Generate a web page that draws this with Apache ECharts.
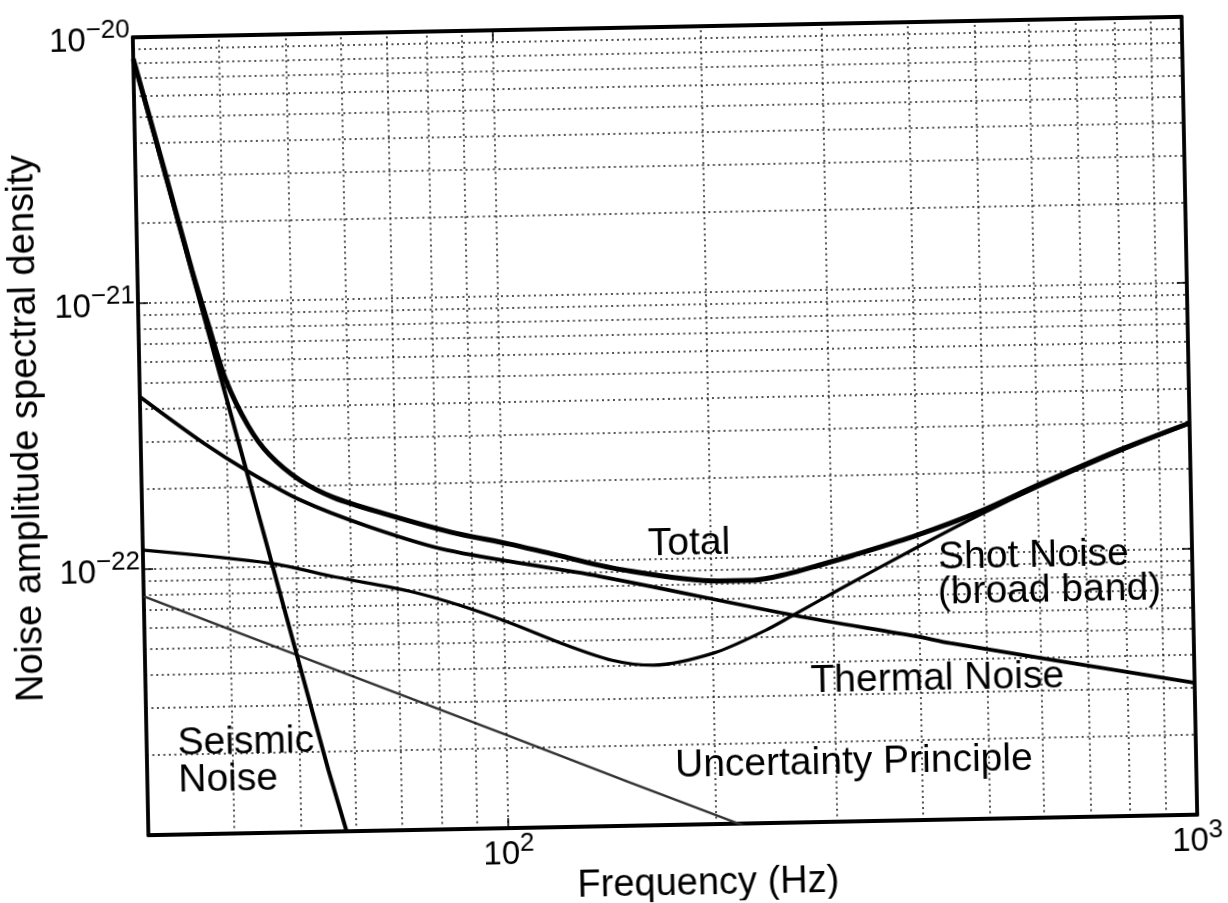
<!DOCTYPE html>
<html>
<head>
<meta charset="utf-8">
<script src="https://cdn.jsdelivr.net/npm/echarts@6/dist/echarts.min.js"></script>
<style>
  html, body { margin: 0; padding: 0; background: #fff; overflow: hidden; }
  #chart { width: 1228px; height: 903px; transform: rotate(-1.12deg); transform-origin: 50% 50%; }
</style>
</head>
<body>
<div id="chart"></div>
<script>
// noise curves, frequency in Hz, amplitude spectral density in 1/sqrt(Hz)
const seismicFreq = [30, 35, 40, 45, 50, 55, 60]
const seismicAsd = [8.3e-21, 1.72e-21, 4.4e-22, 1.33e-22, 4.5e-23, 1.7e-23, 7.5e-24]

const thermalFreq = [30, 37, 43, 51, 64, 83, 138, 264, 397, 443, 1000]
const thermalAsd = [4.45e-22, 2.95e-22, 2.28e-22, 1.77e-22, 1.39e-22, 1.12e-22, 8.7e-23, 6.0e-23, 4.9e-23, 4.6e-23, 3.13e-23]

const shotFreq = [30, 46, 57, 73, 86, 102, 121, 143, 164, 201, 239, 262, 305, 399, 499, 600, 790, 1000]
const shotAsd = [1.18e-22, 1.03e-22, 9.05e-23, 7.9e-23, 6.95e-23, 5.9e-23, 4.9e-23, 4.2e-23, 4.0e-23, 4.4e-23, 5.3e-23, 6.0e-23, 7.4e-23, 1.06e-22, 1.41e-22, 1.75e-22, 2.35e-22, 2.95e-22]

const uncertFreq = [30, 40, 60, 100, 150, 220, 300]
const uncertAsd = [7.9e-23, 5.84e-23, 3.82e-23, 2.24e-23, 1.46e-23, 9.8e-24, 7.1e-24]

const totalFreq = [30, 33, 36, 38, 40, 43, 46, 51, 57, 67, 84, 102, 117, 148, 205, 230, 258, 288, 322, 400, 500, 600, 790, 1000]
const totalAsd = [8.3e-21, 3.2e-21, 1.32e-21, 8.0e-22, 5.1e-22, 3.4e-22, 2.65e-22, 2.1e-22, 1.8e-22, 1.56e-22, 1.31e-22, 1.17e-22, 1.07e-22, 9.2e-23, 8.2e-23, 8.2e-23, 8.6e-23, 9.25e-23, 1.0e-22, 1.18e-22, 1.45e-22, 1.78e-22, 2.38e-22, 2.97e-22]

// dotted log grid
const xGrid = [40, 50, 60, 70, 80, 90, 100, 200, 300, 400, 500, 600, 700, 800, 900]
const yGrid = [
  2e-23, 3e-23, 4e-23, 5e-23, 6e-23, 7e-23, 8e-23, 9e-23, 1e-22,
  2e-22, 3e-22, 4e-22, 5e-22, 6e-22, 7e-22, 8e-22, 9e-22, 1e-21,
  2e-21, 3e-21, 4e-21, 5e-21, 6e-21, 7e-21, 8e-21, 9e-21
]

const X_MIN = 30, X_MAX = 1000
const Y_MIN = 1e-23, Y_MAX = 1e-20

const FONT = '"Liberation Sans", Arial, Helvetica, sans-serif'

const zip = (xs, ys) => xs.map((x, i) => [x, ys[i]])

const powLabel = v => {
  const lg = Math.log10(v)
  const e = Math.round(lg)
  if (Math.abs(lg - e) > 1e-6) return ''
  return '{b|10}{e|' + (e < 0 ? '\u2212' + (-e) : e) + '}'
}

const richPow = {
  b: { fontSize: 33, lineHeight: 40, verticalAlign: 'bottom', fontFamily: FONT, color: '#000' },
  e: { fontSize: 26, lineHeight: 16, verticalAlign: 'top', fontFamily: FONT, color: '#000' }
}

const frame = { show: true, onZero: false, lineStyle: { color: '#000', width: 3.8 } }
const ticks = { show: true, inside: true, length: 10, lineStyle: { color: '#000', width: 1.5 } }

const xBase = { type: 'log', logBase: 10, min: X_MIN, max: X_MAX, gridIndex: 0, splitLine: { show: false }, axisLine: frame, axisTick: ticks }
const yBase = { type: 'log', logBase: 10, min: Y_MIN, max: Y_MAX, gridIndex: 0, splitLine: { show: false }, axisLine: frame, axisTick: ticks }

const curve = (name, freq, asd, width, color, z, smooth) => ({
  name,
  type: 'line',
  data: zip(freq, asd),
  showSymbol: false,
  smooth,
  z,
  lineStyle: { color, width },
  animation: false
})

const gridLines = xGrid
  .map(v => [{ coord: [v, Y_MIN] }, { coord: [v, Y_MAX] }])
  .concat(yGrid.map(v => [{ coord: [X_MIN, v] }, { coord: [X_MAX, v] }]))

const text = (str, x, y, opts = {}) => ({
  type: 'text',
  x,
  y,
  rotation: opts.rotation || 0,
  z: 10,
  style: {
    text: str,
    fill: '#000',
    fontSize: opts.size || 39,
    fontFamily: FONT,
    align: opts.align || 'left',
    verticalAlign: 'middle'
  }
})

const chart = echarts.init(document.getElementById('chart'), null, { renderer: 'canvas' })

chart.setOption({
  backgroundColor: '#fff',
  animation: false,
  grid: { left: 141, top: 28, right: 38, bottom: 77, containLabel: false, outerBoundsMode: 'none' },
  xAxis: [
    {
      ...xBase,
      position: 'bottom',
      axisLabel: {
        margin: 3,
        fontSize: 33,
        fontFamily: FONT,
        color: '#000',
        showMinLabel: true,
        showMaxLabel: true,
        formatter: powLabel,
        rich: richPow
      }
    },
    { ...xBase, position: 'top', axisLabel: { show: false } }
  ],
  yAxis: [
    {
      ...yBase,
      position: 'left',
      axisLabel: {
        margin: 3,
        fontSize: 33,
        fontFamily: FONT,
        color: '#000',
        showMinLabel: true,
        showMaxLabel: true,
        formatter: powLabel,
        rich: richPow
      }
    },
    { ...yBase, position: 'right', axisLabel: { show: false } }
  ],
  series: [
    {
      name: 'grid',
      type: 'line',
      data: [],
      z: 1,
      markLine: {
        silent: true,
        symbol: ['none', 'none'],
        label: { show: false },
        animation: false,
        lineStyle: { color: '#000', width: 1.5, type: [2, 3.5], opacity: 0.9 },
        data: gridLines
      }
    },
    curve('Uncertainty Principle', uncertFreq, uncertAsd, 2.4, '#333', 3, false),
    curve('Shot Noise (broad band)', shotFreq, shotAsd, 3.2, '#000', 4, 0.3),
    curve('Thermal Noise', thermalFreq, thermalAsd, 3.8, '#000', 4, 0.3),
    curve('Seismic Noise', seismicFreq, seismicAsd, 4, '#000', 5, false),
    curve('Total', totalFreq, totalAsd, 5, '#000', 6, 0.3)
  ],
  graphic: [
    text('Total', 646, 545),
    text('Shot Noise', 936, 564),
    text('(broad band)', 935, 599),
    text('Thermal Noise', 806, 685),
    text('Seismic', 172, 735),
    text('Noise', 172, 772),
    text('Uncertainty Principle', 669, 767),
    text('Frequency (Hz)', 700, 886, { size: 38, align: 'center' }),
    text('Noise amplitude spectral density', 28, 417, { size: 38, align: 'center', rotation: Math.PI / 2 })
  ]
})
</script>
</body>
</html>
